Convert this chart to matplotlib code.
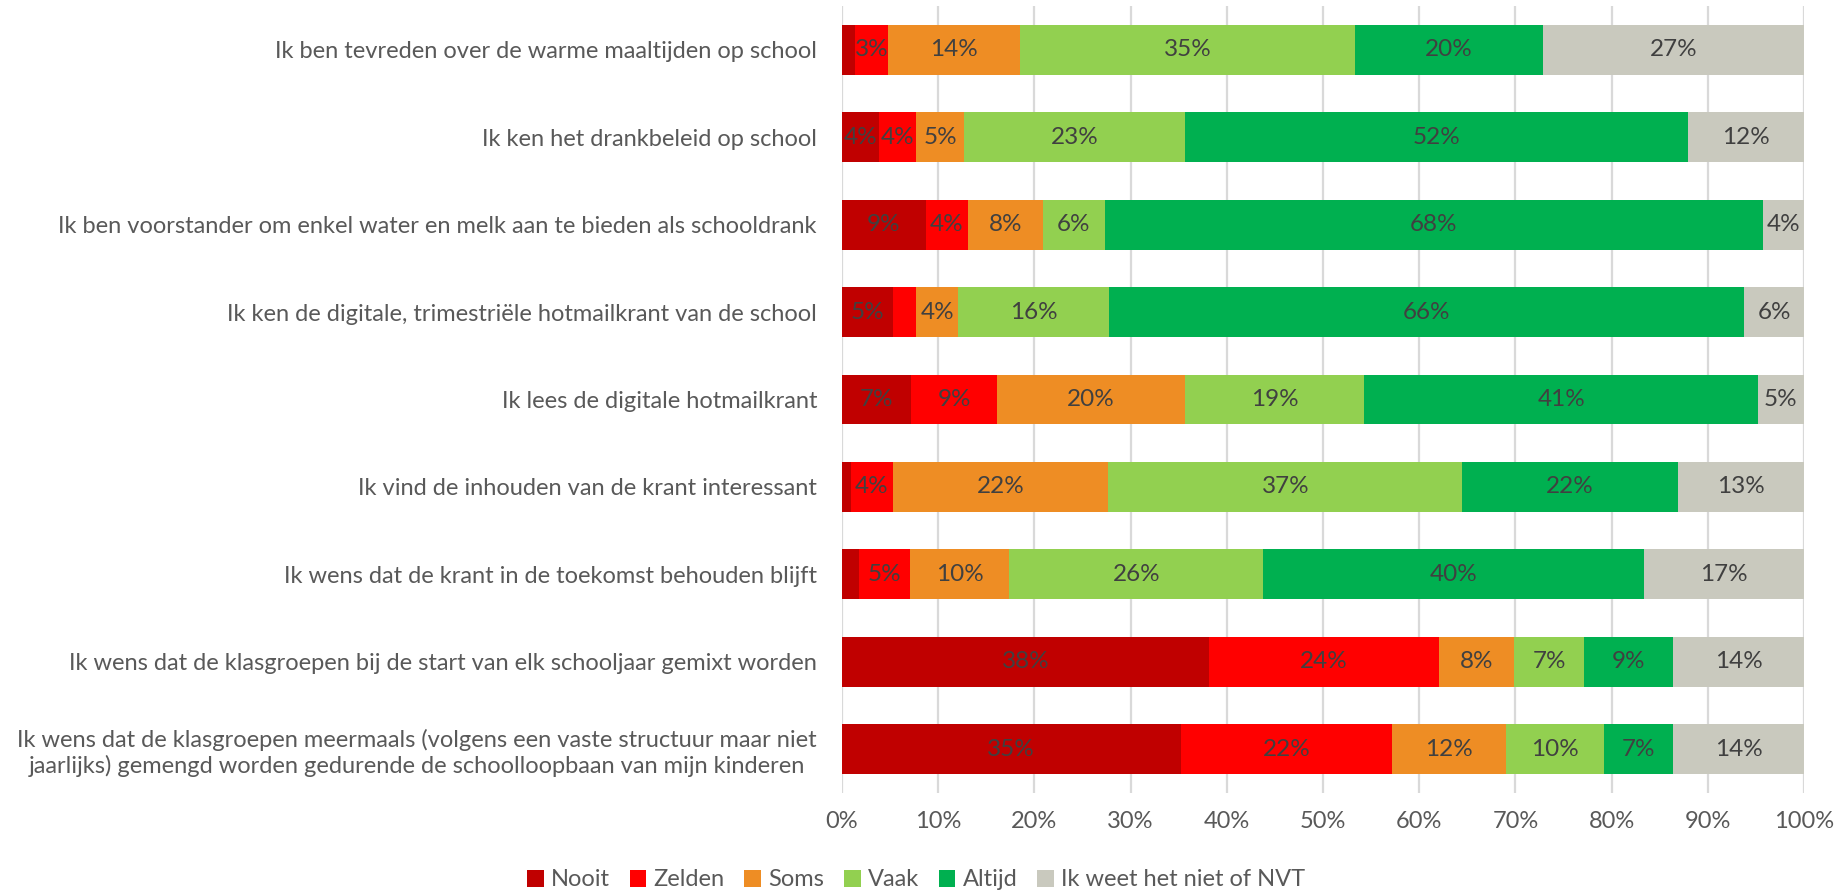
import numpy as np
import matplotlib
matplotlib.use("Agg")
import matplotlib.pyplot as plt
from matplotlib.ticker import PercentFormatter

# statements, top to bottom
questions = [
    "Ik ben tevreden over de warme maaltijden op school",
    "Ik ken het drankbeleid op school",
    "Ik ben voorstander om enkel water en melk aan te bieden als schooldrank",
    "Ik ken de digitale, trimestriële hotmailkrant van de school",
    "Ik lees de digitale hotmailkrant",
    "Ik vind de inhouden van de krant interessant",
    "Ik wens dat de krant in de toekomst behouden blijft",
    "Ik wens dat de klasgroepen bij de start van elk schooljaar gemixt worden",
    "Ik wens dat de klasgroepen meermaals (volgens een vaste structuur maar niet\n"
    "jaarlijks) gemengd worden gedurende de schoolloopbaan van mijn kinderen",
]

answers = ["Nooit", "Zelden", "Soms", "Vaak", "Altijd", "Ik weet het niet of NVT"]
colors = ["#C00000", "#FF0000", "#EE8D24", "#92D050", "#00B050", "#C9C9BE"]

# percentages per answer, same order as questions
nooit = [1.4, 3.8, 8.7, 5.3, 7.2, 0.9, 1.8, 38.1, 35.2]
zelden = [3.4, 3.9, 4.4, 2.4, 8.9, 4.4, 5.3, 24.0, 22.0]
soms = [13.7, 5.0, 7.8, 4.4, 19.6, 22.4, 10.3, 7.8, 11.8]
vaak = [34.8, 23.0, 6.4, 15.7, 18.6, 36.8, 26.4, 7.2, 10.2]
altijd = [19.6, 52.2, 68.4, 66.0, 40.9, 22.4, 39.6, 9.3, 7.2]
nvt = [27.1, 12.1, 4.3, 6.2, 4.8, 13.1, 16.6, 13.6, 13.6]

series = [nooit, zelden, soms, vaak, altijd, nvt]

font = "Lato"
txt_col = "#595959"
lbl_col = "#404040"

fig = plt.figure(figsize=(18.45, 8.9), dpi=100)
ax = fig.add_axes([842 / 1845, 1 - 793 / 890, (1804 - 842) / 1845, (793 - 6) / 890])

y = np.arange(len(questions))
left = np.zeros(len(questions))
for name, vals, col in zip(answers, series, colors):
    vals = np.array(vals)
    bars = ax.barh(y, vals, left=left, height=0.57, color=col, label=name, zorder=3)
    for b, v in zip(bars, vals):
        if v >= 3:
            ax.text(b.get_x() + b.get_width() / 2, b.get_y() + b.get_height() / 2,
                    f"{int(round(v))}%", ha="center", va="center",
                    fontsize=17.5, color=lbl_col, family=font, zorder=4)
    left += vals

ax.set_xlim(0, 100)
ax.set_ylim(len(questions) - 0.5, -0.5)
ax.set_xticks(np.arange(0, 101, 10))
ax.xaxis.set_major_formatter(PercentFormatter(decimals=0))
ax.set_yticks(y)
ax.set_yticklabels(questions, family=font, fontsize=17, color=txt_col,
                   multialignment="center", linespacing=1.2)
for t in ax.get_xticklabels():
    t.set_family(font)
    t.set_fontsize(17)
    t.set_color(txt_col)
ax.tick_params(axis="both", length=0)
ax.tick_params(axis="y", pad=18)
ax.tick_params(axis="x", pad=13)
ax.grid(axis="x", color="#D9D9D9", linewidth=1.6, zorder=0)
for s in ax.spines.values():
    s.set_visible(False)

leg = fig.legend(loc="center", bbox_to_anchor=(0.4965, 1 - 880 / 890), ncol=6,
                 frameon=False, prop={"family": font, "size": 17},
                 handlelength=0.7, handleheight=0.7, handletextpad=0.3,
                 columnspacing=0.85, borderpad=0)
for t in leg.get_texts():
    t.set_color(txt_col)

fig.savefig("out.png", dpi=100)
